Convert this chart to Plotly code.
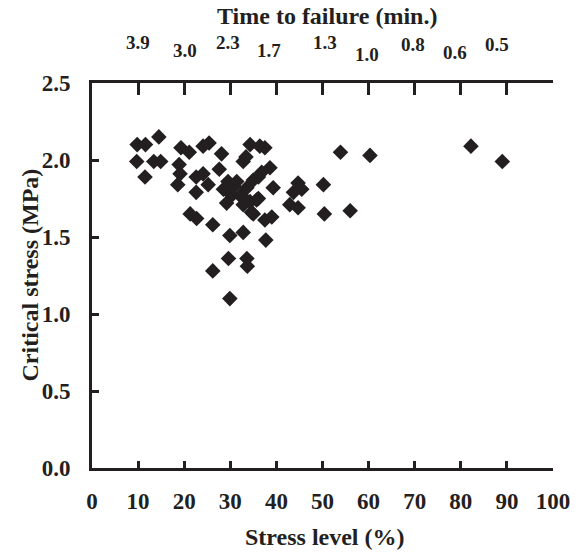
import plotly.graph_objects as go

# Stress level (%) and critical stress (MPa)
stress_level = [9.8, 11.6, 14.5, 9.7, 13.4, 14.9, 11.5, 19.3, 21.1, 24.1, 25.4, 28.1,
                18.9, 19.1, 18.6, 22.6, 24.1, 25.2, 22.6, 27.6, 32.8, 33.4, 34.3, 36.4,
                37.5, 35.0, 36.8, 38.6, 39.3, 28.5, 30.3, 29.2, 31.4, 32.8, 34.3, 35.7,
                32.8, 34.6, 37.5, 39.0, 21.3, 22.7, 26.2, 29.9, 32.8, 37.7, 29.6, 33.6,
                33.7, 26.2, 29.9, 53.9, 60.3, 44.7, 45.5, 43.7, 50.2, 42.9, 44.7, 50.4,
                56.0, 82.2, 89.0, 36.1, 32.1, 33.6, 36.1, 35.0, 30.8, 29.5]
critical_stress = [2.10, 2.10, 2.15, 1.99, 1.99, 1.99, 1.89, 2.08, 2.05, 2.09, 2.11, 2.04,
                   1.97, 1.91, 1.84, 1.89, 1.91, 1.84, 1.79, 1.94, 1.99, 2.02, 2.10, 2.09,
                   2.08, 1.87, 1.92, 1.95, 1.82, 1.81, 1.77, 1.72, 1.86, 1.76, 1.73, 1.74,
                   1.71, 1.66, 1.61, 1.63, 1.65, 1.62, 1.58, 1.51, 1.53, 1.48, 1.36, 1.36,
                   1.31, 1.28, 1.10, 2.05, 2.03, 1.85, 1.81, 1.79, 1.84, 1.71, 1.69, 1.65,
                   1.67, 2.09, 1.99, 1.89, 1.77, 1.82, 1.75, 1.65, 1.83, 1.86]

x_ticks = [0, 10, 20, 30, 40, 50, 60, 70, 80, 90, 100]
y_ticks = [0.0, 0.5, 1.0, 1.5, 2.0, 2.5]
y_tick_labels = ["0.0", "0.5", "1.0", "1.5", "2.0", "2.5"]

# Top axis: time to failure labels and the stress level each sits above
time_labels = ["3.9", "3.0", "2.3", "1.7", "1.3", "1.0", "0.8", "0.6", "0.5"]
time_label_pos = [10, 20.2, 29.5, 38.3, 50.5, 59.7, 69.6, 78.7, 87.9]
time_label_pixel_y = [43, 51, 43, 51, 43, 55, 44, 53, 45]  # style: staggered heights

FONT = "Liberation Serif"
INK = "#231f20"

L, R, T, B = 92, 32, 83, 86
W, H = 585, 554
PH = H - T - B
PW = W - L - R

fig = go.Figure()
fig.add_trace(go.Scatter(
    x=stress_level, y=critical_stress, mode="markers",
    marker=dict(symbol="diamond", size=12, color=INK, line=dict(width=0)),
    showlegend=False, hoverinfo="x+y"))
fig.add_trace(go.Scatter(x=[None], y=[None], xaxis="x2", showlegend=False, hoverinfo="skip"))

tickfont = dict(family=FONT, size=23, color=INK, weight="bold")

fig.update_layout(
    width=W, height=H,
    margin=dict(l=L, r=R, t=T, b=B),
    paper_bgcolor="white", plot_bgcolor="white",
    font=dict(family=FONT, color=INK),
    xaxis=dict(range=[0, 100], tickvals=x_ticks, ticktext=[f"<b>{v}</b>" for v in x_ticks],
               ticks="inside", ticklen=7, tickwidth=3, tickcolor=INK,
               showline=True, linewidth=3, linecolor=INK, showgrid=False, zeroline=False,
               tickfont=tickfont, ticklabelstandoff=10),
    xaxis2=dict(range=[0, 100], overlaying="x", side="top", anchor="y",
                tickvals=x_ticks[1:], ticks="inside", ticklen=12, tickwidth=3, tickcolor=INK,
                showticklabels=False, showline=True, linewidth=3, linecolor=INK,
                showgrid=False, zeroline=False),
    yaxis=dict(range=[0, 2.5], tickvals=y_ticks, ticktext=[f"<b>{t}</b>" for t in y_tick_labels],
               ticks="inside", ticklen=7, tickwidth=3, tickcolor=INK,
               showline=True, linewidth=3, linecolor=INK, showgrid=False, zeroline=False,
               tickfont=tickfont, ticklabelstandoff=14),
)

annotations = []
for lab, xv, py in zip(time_labels, time_label_pos, time_label_pixel_y):
    annotations.append(dict(text=f"<b>{lab}</b>", x=xv, xref="x", y=1 + (T - py) / PH, yref="paper",
                            xanchor="center", yanchor="middle", showarrow=False,
                            font=dict(family=FONT, size=19, color=INK)))
annotations.append(dict(text="<b>Time to failure (min.)</b>", x=(326.5 - L) / PW, xref="paper",
                        y=1 + (T - 16) / PH, yref="paper", xanchor="center", yanchor="middle",
                        showarrow=False, font=dict(family=FONT, size=24, color=INK)))
annotations.append(dict(text="<b>Stress level (%)</b>", x=(324.5 - L) / PW, xref="paper",
                        y=-(537 - (H - B)) / PH, yref="paper", xanchor="center", yanchor="middle",
                        showarrow=False, font=dict(family=FONT, size=24, color=INK)))
annotations.append(dict(text="<b>Critical stress (MPa)</b>", x=(29 - L) / PW, xref="paper",
                        y=0.5, yref="paper", xanchor="center", yanchor="middle", textangle=-90,
                        showarrow=False, font=dict(family=FONT, size=24, color=INK)))
fig.update_layout(annotations=annotations)

fig.write_html("out.html")
